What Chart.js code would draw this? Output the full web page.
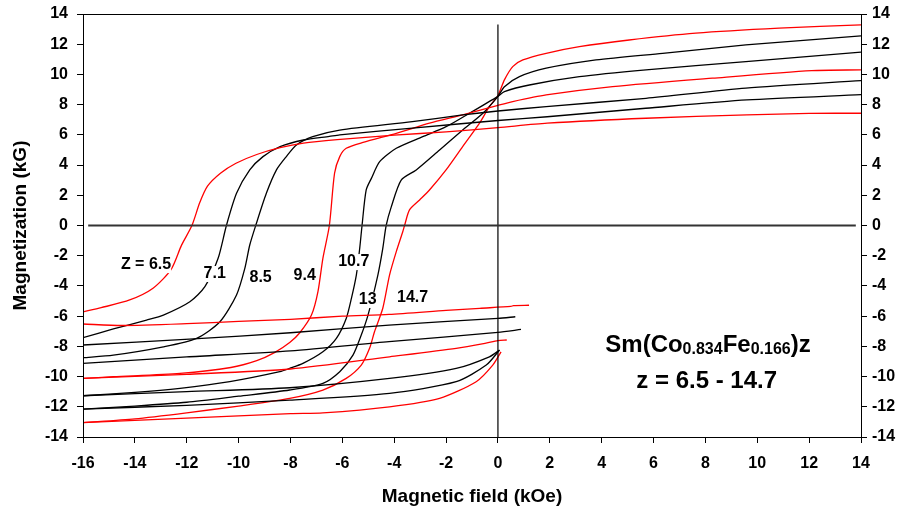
<!DOCTYPE html>
<html>
<head>
<meta charset="utf-8">
<title>Sm(Co0.834Fe0.166)z hysteresis loops</title>
<script src="https://cdn.jsdelivr.net/npm/chart.js@4.4.1/dist/chart.umd.min.js"></script>
<style>
  html, body { margin: 0; padding: 0; background: #fff; }
  #wrap { width: 901px; height: 514px; }
</style>
</head>
<body>
<div id="wrap"><canvas id="loopChart" width="901" height="514"></canvas></div>
<script>
// 组成 z 及曲线标注
const zLabels = ['Z = 6.5', '7.1', '8.5', '9.4', '10.7', '13', '14.7'];
const labelField = [-13.57, -10.92, -9.15, -7.45, -5.56, -5.02, -3.29];
const labelMag = [-2.62, -3.21, -3.48, -3.34, -2.42, -4.93, -4.8];

// 坐标轴刻度
const fieldTicks = [-16, -14, -12, -10, -8, -6, -4, -2, 0, 2, 4, 6, 8, 10, 12, 14];
const magTicks = [-14, -12, -10, -8, -6, -4, -2, 0, 2, 4, 6, 8, 10, 12, 14];

// 每条回线: [磁场 kOe, 磁化强度 kG]，down = 从 +14 扫到 -16，up = 返回段
const z65Down = [[14, 7.43], [12, 7.42], [9.6, 7.32], [5.7, 7.1], [1.9, 6.77], [0, 6.48], [-2, 6.2], [-4, 5.98],
  [-6.2, 5.68], [-7.5, 5.45], [-8.4, 5.15], [-9.3, 4.7], [-10.1, 4.12], [-10.7, 3.46], [-11.2, 2.6], [-11.5, 1.5],
  [-11.8, 0], [-12.2, -1.3], [-12.6, -2.9], [-13.3, -4.15], [-14.2, -4.93], [-15.3, -5.44], [-16, -5.72]];
const z65Up = [[-16, -6.52], [-14.5, -6.62], [-12, -6.5], [-10, -6.35], [-8, -6.21], [-6, -6.0], [-4.2, -5.88],
  [-2, -5.62], [-0.7, -5.48], [0.5, -5.36], [0.6, -5.3], [1.2, -5.28]];

const z71Down = [[14, 8.66], [9.6, 8.31], [5.7, 7.76], [1.9, 7.2], [0, 6.95], [-3.3, 6.45], [-6.1, 6.0], [-6.5, 5.9],
  [-7.5, 5.66], [-8.4, 5.22], [-9.06, 4.56], [-9.57, 3.68], [-10.08, 2.13], [-10.47, 0], [-10.79, -2.17],
  [-11.3, -4.05], [-11.88, -5.05], [-12.9, -5.93], [-13.55, -6.26], [-14.83, -6.85], [-16, -7.43]];
const z71Up = [[-16, -7.91], [-11.9, -7.52], [-8, -7.1], [-4.2, -6.59], [0, -6.15], [0.67, -6.04]];

const z85Down = [[14, 9.59], [9.56, 9.09], [5.71, 8.42], [1.86, 7.87], [0, 7.58], [-1.36, 7.32], [-3.3, 6.87],
  [-6.1, 6.32], [-7.14, 5.88], [-7.77, 5.33], [-8.16, 4.56], [-8.54, 3.68], [-8.93, 2.13], [-9.34, 0],
  [-9.57, -1.29], [-9.76, -2.84], [-10.08, -4.6], [-10.72, -6.37], [-11.62, -7.47], [-12.9, -8.03],
  [-14.83, -8.58], [-16, -8.75]];
const z85Up = [[-16, -9.13], [-12, -8.7], [-8, -8.3], [-4.2, -7.69], [0, -7.07], [0.89, -6.88]];

const z94Down = [[14, 10.3], [12.1, 10.25], [8.27, 9.75], [4.42, 9.19], [1.86, 8.64], [0.57, 8.2], [0, 7.95],
  [-1.36, 7.32], [-2.64, 6.77], [-3.92, 6.1], [-5.2, 5.5], [-5.85, 5.11], [-6.1, 4.56], [-6.3, 3.46], [-6.5, 0],
  [-6.75, -2.17], [-6.94, -4.38], [-7.19, -5.93], [-7.64, -7.1], [-8.03, -7.75], [-8.6, -8.4], [-9.3, -8.95],
  [-10.3, -9.4], [-12.26, -9.79], [-14.83, -10.01], [-16, -10.12]];
const z94Up = [[-16, -10.12], [-12, -9.85], [-8, -9.5], [-4.18, -8.69], [-1.61, -8.13], [-0.5, -7.8], [0, -7.62], [0.34, -7.58]];

const z107Down = [[14, 11.47], [9.56, 10.85], [5.71, 10.3], [3.14, 9.85], [1.21, 9.3], [0.25, 8.86], [0, 8.55],
  [-1.1, 7.43], [-2.0, 6.54], [-2.9, 5.88], [-3.92, 5.11], [-4.56, 4.23], [-4.88, 3.12], [-5.08, 2.35], [-5.24, 0],
  [-5.33, -1.51], [-5.46, -3.28], [-5.65, -4.82], [-5.85, -6.15], [-6.23, -7.47], [-6.75, -8.36], [-7.52, -9.13],
  [-8.03, -9.46], [-8.41, -9.68], [-10.34, -10.34], [-12.26, -10.78], [-14, -11.05], [-16, -11.27]];
const z107Up = [[-16, -11.27], [-12, -11.0], [-8.03, -10.74], [-4.18, -10.12], [-1.61, -9.46], [-0.33, -8.69], [0.06, -8.25]];

const z13Down = [[14, 12.55], [9.56, 11.95], [6.35, 11.4], [3.78, 10.96], [1.86, 10.41], [0.83, 9.85], [0.25, 9.19],
  [0, 8.55], [-0.58, 7.43], [-1.36, 6.32], [-2.25, 5.0], [-3.15, 3.68], [-3.73, 3.01], [-4.11, 1.25], [-4.31, 0],
  [-4.44, -1.51], [-4.63, -3.28], [-5.01, -5.93], [-5.27, -7.25], [-5.59, -8.58], [-6.1, -9.68], [-6.75, -10.45],
  [-8.03, -10.89], [-10, -11.3], [-12, -11.7], [-14, -11.95], [-16, -12.15]];
const z13Up = [[-16, -12.15], [-12, -11.9], [-8.03, -11.56], [-4.18, -11.11], [-1.61, -10.34], [-0.45, -9.24], [0.06, -8.25]];

const z147Down = [[14, 13.28], [10.84, 13.06], [7.63, 12.73], [5.06, 12.28], [3.14, 11.84], [1.86, 11.4], [0.96, 10.96],
  [0.57, 10.52], [0.25, 9.64], [0, 8.6], [-0.33, 7.87], [-0.71, 6.77], [-1.36, 5.22], [-2.0, 3.68], [-2.64, 2.35],
  [-3.02, 1.69], [-3.41, 1.03], [-3.6, 0], [-3.67, -0.41], [-3.92, -1.73], [-4.18, -3.28], [-4.44, -5.48],
  [-4.76, -7.03], [-4.95, -8.13], [-5.27, -9.24], [-5.85, -10.12], [-6.75, -10.89], [-8.03, -11.44],
  [-10, -11.95], [-12, -12.4], [-14, -12.8], [-16, -13.05]];
const z147Up = [[-16, -13.05], [-12, -12.75], [-8, -12.45], [-6.75, -12.4], [-4.18, -12.0], [-2.25, -11.44],
  [-0.84, -10.34], [-0.2, -9.24], [0.12, -8.36]];

// 零线
const zeroMagLine = [[-15.8, 0], [13.8, 0]];
const zeroFieldLine = [[0, 13.3], [0, -14]];

const loops = [
  [z65Down, z65Up], [z71Down, z71Up], [z85Down, z85Up], [z94Down, z94Up],
  [z107Down, z107Up], [z13Down, z13Up], [z147Down, z147Up]
];
const loopColors = ['#ff0000', '#000000', '#000000', '#ff0000', '#000000', '#000000', '#ff0000'];

const FONT = '"Liberation Sans", Arial, sans-serif';

function toXY(pts) {
    return pts.map(p => ({ x: p[0], y: p[1] }));
}

const datasets = [
    { data: toXY(zeroMagLine), borderColor: '#333333', borderWidth: 2, tension: 0 },
    { data: toXY(zeroFieldLine), borderColor: '#000000', borderWidth: 1.2, tension: 0 }
];
loops.forEach((branches, i) => {
    branches.forEach(branch => {
        datasets.push({
            data: toXY(branch),
            borderColor: loopColors[i],
            borderWidth: 1.3,
            tension: 0.25
        });
    });
});

// 绘图区外框（补上顶边）
const frame = {
    id: 'frame',
    afterDatasetsDraw(chart) {
        const { ctx, chartArea: a } = chart;
        ctx.save();
        ctx.strokeStyle = '#000';
        ctx.lineWidth = 1;
        ctx.strokeRect(Math.round(a.left) + 0.5, Math.round(a.top) + 0.5,
            Math.round(a.right - a.left), Math.round(a.bottom - a.top));
        ctx.restore();
    }
};

// 曲线标注和成分说明
const curveLabels = {
    id: 'curveLabels',
    afterDatasetsDraw(chart) {
        const { ctx, scales: { x, y } } = chart;
        ctx.save();
        ctx.font = 'bold 16px ' + FONT;
        ctx.textAlign = 'center';
        ctx.textBaseline = 'middle';
        zLabels.forEach((txt, i) => {
            const px = x.getPixelForValue(labelField[i]);
            const py = y.getPixelForValue(labelMag[i]);
            const w = ctx.measureText(txt).width;
            ctx.fillStyle = '#fff';
            ctx.fillRect(px - w / 2, py - 8, w, 16);
            ctx.fillStyle = '#000';
            ctx.fillText(txt, px, py);
        });

        // Sm(Co0.834Fe0.166)z
        const parts = [['Sm(Co', 24, 0], ['0.834', 16, 2], ['Fe', 24, 0], ['0.166', 16, 2], [')z', 24, 0]];
        ctx.textAlign = 'left';
        ctx.textBaseline = 'alphabetic';
        let total = 0;
        parts.forEach(p => { ctx.font = 'bold ' + p[1] + 'px ' + FONT; total += ctx.measureText(p[0]).width; });
        let cx = x.getPixelForValue(8.1) - total / 2;
        const base1 = y.getPixelForValue(-8.38);
        parts.forEach(p => {
            ctx.font = 'bold ' + p[1] + 'px ' + FONT;
            ctx.fillText(p[0], cx, base1 + p[2]);
            cx += ctx.measureText(p[0]).width;
        });
        ctx.font = 'bold 24px ' + FONT;
        ctx.textAlign = 'center';
        ctx.fillText('z = 6.5 - 14.7', x.getPixelForValue(8.05), y.getPixelForValue(-10.76));
        ctx.restore();
    }
};

function axisTicks(values) {
    return values.map(v => ({ value: v }));
}

// 固定坐标轴尺寸，去掉刻度文字带来的额外留白
function fixSize(prop, size) {
    return s => {
        s[prop] = size;
        s.paddingTop = 0;
        s.paddingBottom = 0;
        s.paddingLeft = 0;
        s.paddingRight = 0;
    };
}

const tickFont = { family: FONT, size: 16, weight: 'bold' };
const titleFont = { family: FONT, size: 19, weight: 'bold' };
const gridOpts = { display: true, drawOnChartArea: false, drawTicks: true, tickLength: 6, tickColor: '#000', tickWidth: 1 };
const borderOpts = { display: true, color: '#000', width: 1 };

new Chart(document.getElementById('loopChart').getContext('2d'), {
    type: 'scatter',
    data: { datasets: datasets },
    options: {
        responsive: false,
        animation: false,
        devicePixelRatio: 1,
        showLine: true,
        elements: { point: { radius: 0, hoverRadius: 0 } },
        layout: { padding: { top: 14, left: 0, right: 0, bottom: 0 } },
        plugins: { legend: { display: false }, tooltip: { enabled: false } },
        scales: {
            x: {
                type: 'linear',
                position: 'bottom',
                min: -16,
                max: 14,
                afterBuildTicks: s => { s.ticks = axisTicks(fieldTicks); },
                afterFit: fixSize('height', 77),
                grid: gridOpts,
                border: borderOpts,
                ticks: { color: '#000', font: tickFont, padding: 11, maxRotation: 0 },
                title: { display: true, text: 'Magnetic field (kOe)', color: '#000', font: titleFont, padding: { top: 0, bottom: 6 } }
            },
            y: {
                type: 'linear',
                position: 'left',
                min: -14,
                max: 14,
                afterBuildTicks: s => { s.ticks = axisTicks(magTicks); },
                afterFit: fixSize('width', 83),
                grid: gridOpts,
                border: borderOpts,
                ticks: { color: '#000', font: tickFont, padding: 9 },
                title: { display: true, text: 'Magnetization (kG)', color: '#000', font: titleFont, padding: { top: 9, bottom: 0 } }
            },
            y2: {
                type: 'linear',
                position: 'right',
                min: -14,
                max: 14,
                afterBuildTicks: s => { s.ticks = axisTicks(magTicks); },
                afterFit: fixSize('width', 40),
                grid: gridOpts,
                border: borderOpts,
                ticks: { color: '#000', font: tickFont, padding: 5 }
            }
        }
    },
    plugins: [frame, curveLabels]
});
</script>
</body>
</html>
